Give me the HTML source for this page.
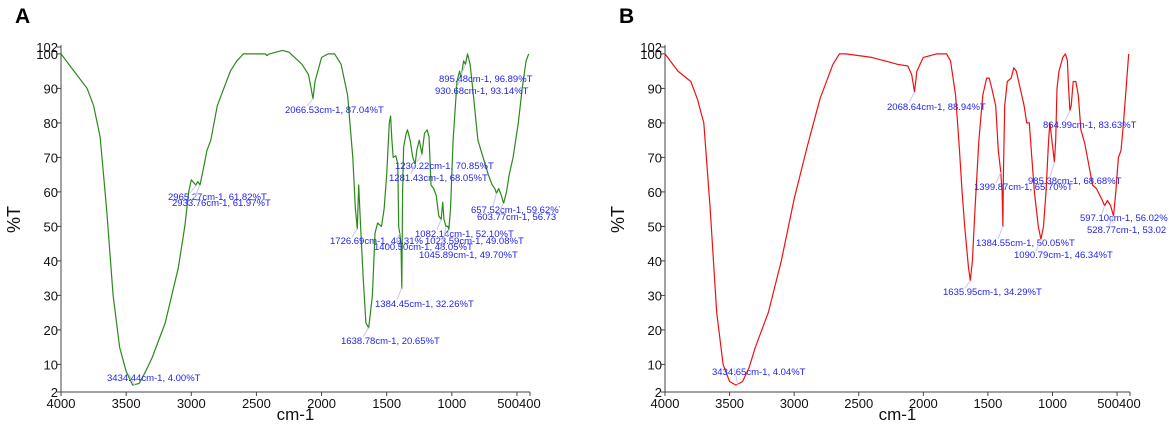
<!DOCTYPE html>
<html><head><meta charset="utf-8">
<style>
html,body{margin:0;padding:0;background:#fff;}
svg{display:block;font-family:"Liberation Sans",sans-serif;}
</style></head>
<body>
<svg id="chart" width="1169" height="427" viewBox="0 0 1169 427">
<defs><clipPath id="clipA"><rect x="0" y="0" width="560" height="427"/></clipPath></defs>
<g id="panelA" clip-path="url(#clipA)"></g>
<g id="panelB"></g>
</svg>
<script>
const xTicks = [4000,3500,3000,2500,2000,1500,1000,500,400];
const yTicks = [2,10,20,30,40,50,60,70,80,90,100,102];
const wnA = [4000,3900,3800,3750,3700,3650,3600,3550,3500,3450,3400,3350,3300,3200,3100,3050,3020,3000,2965,2950,2933,2900,2880,2850,2800,2750,2700,2650,2600,2500,2430,2420,2400,2300,2250,2150,2100,2080,2066,2050,2000,1950,1900,1850,1800,1760,1740,1726,1715,1700,1680,1660,1638,1610,1590,1570,1540,1520,1500,1480,1470,1460,1450,1430,1415,1408,1400,1390,1384,1378,1370,1350,1340,1320,1300,1281,1270,1250,1230,1210,1190,1175,1160,1140,1120,1100,1082,1070,1060,1045,1030,1023,1010,990,960,940,930,910,895,880,860,840,800,760,720,690,670,657,640,620,603,580,560,530,490,460,430,410];
const tA = [100,95,90,85,76,55,30,15,8,4,4.5,8,12,22,38,50,60,63.5,62,63,62,68,72,75,85,90,95,98,100,100,100,99.5,100,101,100.5,97,94,90,87,92,99,100,100,97,88,70,55,49.3,62,50,35,22,20.6,30,48,51,50,55,65,80,82,75,70,70.5,68,50,48,45,32,60,73,77,78,75,70,68,72,75,71,77,78,76,62,61,59,53,52,57,52,50,50,49,55,75,92,95,93,98,97,100,97,90,75,70,65,62,61,59.6,61,59,56.7,60,65,70,80,90,98,100];
const wnB = [4000,3900,3800,3750,3700,3650,3600,3550,3500,3450,3400,3350,3300,3200,3100,3000,2900,2800,2700,2650,2600,2500,2400,2300,2200,2120,2090,2068,2050,2000,1900,1820,1790,1750,1720,1700,1680,1650,1636,1620,1600,1570,1540,1510,1490,1470,1440,1420,1400,1390,1384,1380,1370,1350,1320,1300,1280,1250,1220,1200,1180,1160,1140,1110,1090,1070,1050,1030,1020,1005,985,975,965,950,920,900,885,875,865,855,840,820,800,780,750,720,690,660,620,597,575,550,528,510,490,470,450,430,410];
const tB = [100,95,92,87,80,55,25,10,5,4,5,9,15,25,40,58,73,87,97,100,100,99.5,99,98,97,96.5,94,89,95,99,100,100,98,88,72,60,50,38,34.3,40,55,75,88,93,93,90,85,72,65.7,60,50,65,85,92,93,96,95,90,85,80,80,70,60,50,46.3,50,60,75,80,75,68.7,75,90,95,99,100,98,90,83.6,85,92,92,88,78,74,68,62,61,58,56,57.5,56,53,60,70,72,80,90,100];
const labelsA = ["2066.53cm-1, 87.04%T","895.48cm-1, 96.89%T","930.68cm-1, 93.14%T","1230.22cm-1, 70.85%T","1281.43cm-1, 68.05%T","2965.27cm-1, 61.82%T","2933.76cm-1, 61.97%T","657.52cm-1, 59.62%T","603.77cm-1, 56.73","1082.14cm-1, 52.10%T","1726.69cm-1, 49.31%","1023.59cm-1, 49.08%T","1400.50cm-1, 48.05%T","1045.89cm-1, 49.70%T","1384.45cm-1, 32.26%T","1638.78cm-1, 20.65%T","3434.44cm-1, 4.00%T"];
const peakWnA = [2066.53,895.48,930.68,1230.22,1281.43,2965.27,2933.76,657.52,603.77,1082.14,1726.69,1023.59,1400.50,1045.89,1384.45,1638.78,3434.44];
const peakTA = [87.04,96.89,93.14,70.85,68.05,61.82,61.97,59.62,56.73,52.10,49.31,49.08,48.05,49.70,32.26,20.65,4.00];
const labelsB = ["2068.64cm-1, 88.94%T","864.99cm-1, 83.63%T","985.38cm-1, 68.68%T","1399.87cm-1, 65.70%T","597.10cm-1, 56.02%","528.77cm-1, 53.02","1384.55cm-1, 50.05%T","1090.79cm-1, 46.34%T","1635.95cm-1, 34.29%T","3434.65cm-1, 4.04%T"];
const peakWnB = [2068.64,864.99,985.38,1399.87,597.10,528.77,1384.55,1090.79,1635.95,3434.65];
const peakTB = [88.94,83.63,68.68,65.70,56.02,53.02,50.05,46.34,34.29,4.04];

const NS="http://www.w3.org/2000/svg";
function mk(parent,tag,attrs,text){
  const e=document.createElementNS(NS,tag);
  for(const k in attrs) e.setAttribute(k,attrs[k]);
  if(text!==undefined) e.textContent=text;
  parent.appendChild(e);
  return e;
}
function panel(g,letter,x0,x1,wn,t,color,labels,pw,pt,lx,ly){
  const y0=47,y1=392;
  const sx=w=>x0+(4000-w)/3600*(x1-x0);
  const sy=v=>y1-(v-2)/100*(y1-y0);
  const L=mk(g,'text',{x:x0-46,y:23,'font-size':21,'font-weight':'bold'},letter);
  
  
  const ax=mk(g,'path',{d:`M${x0},${y0-2}V${y1}H${x1}`,stroke:'#444',fill:'none','stroke-width':1});
  
  
  yTicks.forEach(v=>{
    mk(g,'line',{x1:x0-4,x2:x0,y1:sy(v),y2:sy(v),stroke:'#444'});
    const tl=mk(g,'text',{x:x0-3,y:sy(v)+5,'font-size':13,'text-anchor':'end',fill:'#111'},String(v));
    
    
  });
  xTicks.forEach(v=>{
    mk(g,'line',{x1:sx(v),x2:sx(v),y1:y1,y2:y1+4,stroke:'#444'});
    const anchor=v===500?'end':(v===400?'start':'middle');
    const dx=v===500?sx(400)-sx(500)+(-1):(v===400?-1:0);
    const tl=mk(g,'text',{x:sx(v)+dx,y:y1+16,'font-size':13,'text-anchor':v===400?'middle':anchor,fill:'#111'},String(v));
    if(v===500){tl.setAttribute('x',sx(400)-11);tl.setAttribute('text-anchor','end');}
    if(v===400){tl.setAttribute('x',sx(400)-11);tl.setAttribute('text-anchor','start');}
    
    
  });
  const xt=mk(g,'text',{x:(x0+x1)/2,y:420,'font-size':17,'text-anchor':'middle',fill:'#111'},'cm-1');
  
  
  const yt=mk(g,'text',{x:0,y:0,'font-size':18,'text-anchor':'middle',fill:'#111',transform:`translate(${x0-41},${(y0+y1)/2}) rotate(-90)`},'%T');
  
  
  let d='';
  wn.forEach((w,i)=>{d+=(i?'L':'M')+sx(w).toFixed(1)+','+sy(t[i]).toFixed(1);});
  const ln=mk(g,'path',{d:d,stroke:color,fill:'none','stroke-width':1.2,'stroke-linejoin':'round'});
  
  
  labels.forEach((s,i)=>{
    const px=sx(pw[i]),py=sy(pt[i]);
    const ll=mk(g,'line',{x1:px,y1:py,x2:lx[i]+22,y2:ly[i]-4,stroke:'#c8c8f0','stroke-width':1});
    
    
    const tx=mk(g,'text',{x:lx[i],y:ly[i]+3,'font-size':9.5,fill:'#2222ee'},s);
    
    
  });
}
const lxA=[285,439,435,395,389,168,172,471,477,415,330,425,374,419,375,341,107];
const lyA=[110,79,91,166,178,197,203,210,217,234,241,241,247,255,304,341,378];
const lxB=[887,1043,1028,974,1080,1087,976,1014,943,712];
const lyB=[107,125,181,187,218,230,243,255,292,372];
panel(document.getElementById('panelA'),'A',61,530,wnA,tA,'#2a8a1a',labelsA,peakWnA,peakTA,lxA,lyA);
panel(document.getElementById('panelB'),'B',665,1130,wnB,tB,'#ee1111',labelsB,peakWnB,peakTB,lxB,lyB);
</script>
</body></html>
